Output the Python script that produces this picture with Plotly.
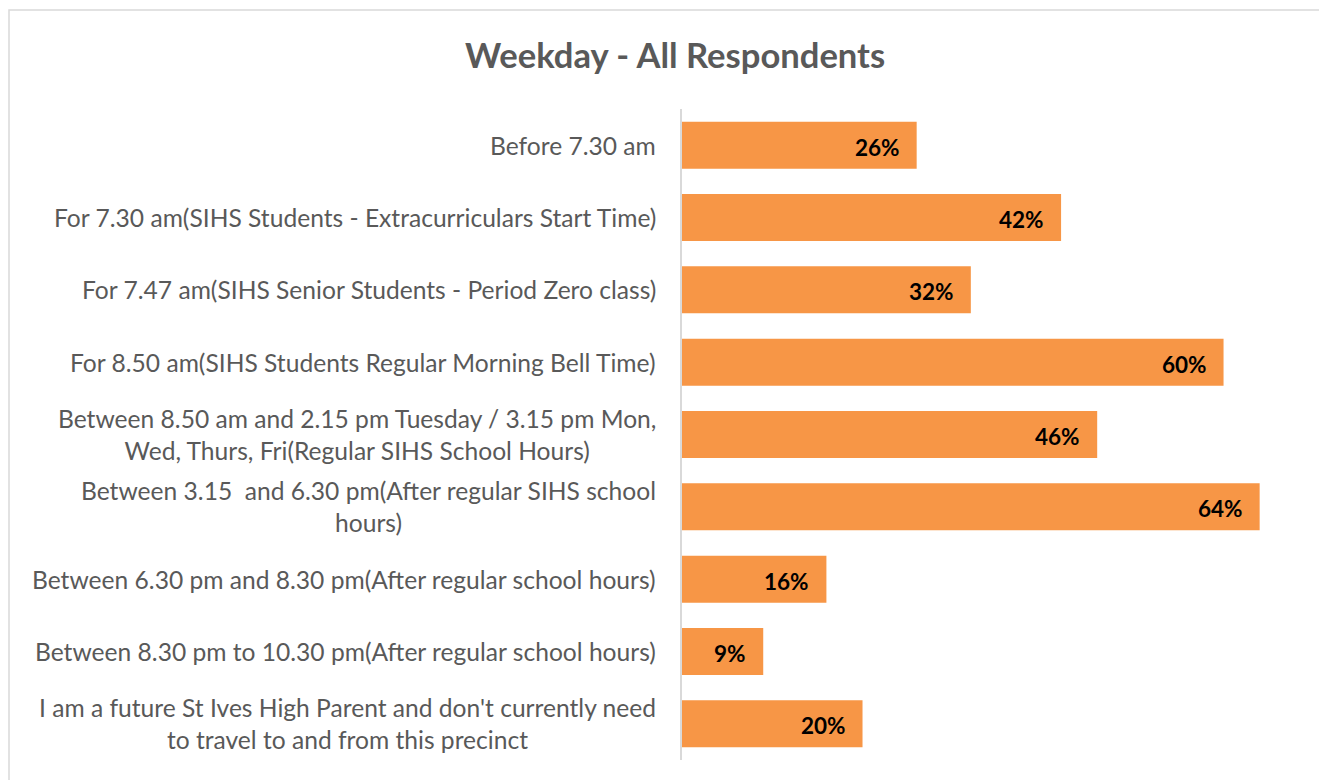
import plotly.graph_objects as go

categories = [
    "Before 7.30 am",
    "For 7.30 am(SIHS Students - Extracurriculars Start Time)",
    "For 7.47 am(SIHS Senior Students - Period Zero class)",
    "For 8.50 am(SIHS Students Regular Morning Bell Time)",
    "Between 8.50 am and 2.15 pm Tuesday / 3.15 pm Mon,<br>Wed, Thurs, Fri(Regular SIHS School Hours)",
    "Between 3.15  and 6.30 pm(After regular SIHS school<br>hours)",
    "Between 6.30 pm and 8.30 pm(After regular school hours)",
    "Between 8.30 pm to 10.30 pm(After regular school hours)",
    "I am a future St Ives High Parent and don't currently need<br>to travel to and from this precinct",
]
values = [26, 42, 32, 60, 46, 64, 16, 9, 20]
value_labels = ["26%", "42%", "32%", "60%", "46%", "64%", "16%", "9%", "20%"]
title_text = "Weekday - All Respondents"

ORANGE = "#F79646"
GRAY = "#595959"
FONT = "Lato, 'Open Sans', sans-serif"

# figure is rendered with an 8px page margin; work in figure coordinates
W, H = 1319, 772
L, T, B, R = 674, 101, 20, 15
PW = W - L - R
PH = H - T - B

ids = list(range(len(categories)))

fig = go.Figure()
fig.add_trace(go.Bar(
    x=values, y=ids, orientation="h",
    marker=dict(color=ORANGE, line=dict(width=0)),
    hoverinfo="skip",
))

annotations = []
for i, (cat, v, lab) in enumerate(zip(categories, values, value_labels)):
    annotations.append(dict(
        x=0, y=i, xref="x", yref="y", text=cat, showarrow=False,
        xanchor="right", yanchor="middle", align="center", xshift=-24,
        font=dict(family=FONT, size=24.6, color=GRAY),
    ))
    annotations.append(dict(
        x=v, y=i, xref="x", yref="y", text="<b>" + lab + "</b>", showarrow=False,
        xanchor="right", yanchor="middle", xshift=-15, yshift=-2,
        font=dict(family=FONT, size=22.5, color="#000000"),
    ))
annotations.append(dict(
    x=(666.5 - L) / PW, y=(T + PH - 46) / PH, xref="paper", yref="paper",
    text="<b>" + title_text + "</b>",
    showarrow=False, xanchor="center", yanchor="middle",
    font=dict(family=FONT, size=34.6, color=GRAY),
))

fig.update_layout(
    width=W, height=H,
    margin=dict(l=L, r=R, t=T, b=B),
    paper_bgcolor="white", plot_bgcolor="white",
    showlegend=False, bargap=0.35,
    annotations=annotations,
    xaxis=dict(range=[0, 69.8], showgrid=False, zeroline=False, showticklabels=False, ticks=""),
    yaxis=dict(range=[len(categories) - 0.5, -0.5], showgrid=False, zeroline=False,
               showticklabels=False, ticks="", showline=True, linecolor="#D9D9D9", linewidth=2),
    shapes=[dict(type="rect", xref="paper", yref="paper",
                 x0=(1 - L) / PW, x1=(W + 20 - L) / PW,
                 y0=-(B + 20) / PH, y1=(T + PH - 2) / PH,
                 line=dict(color="#D9D9D9", width=1.5), fillcolor="rgba(0,0,0,0)", layer="below")],
)

fig.write_html("out.html")
